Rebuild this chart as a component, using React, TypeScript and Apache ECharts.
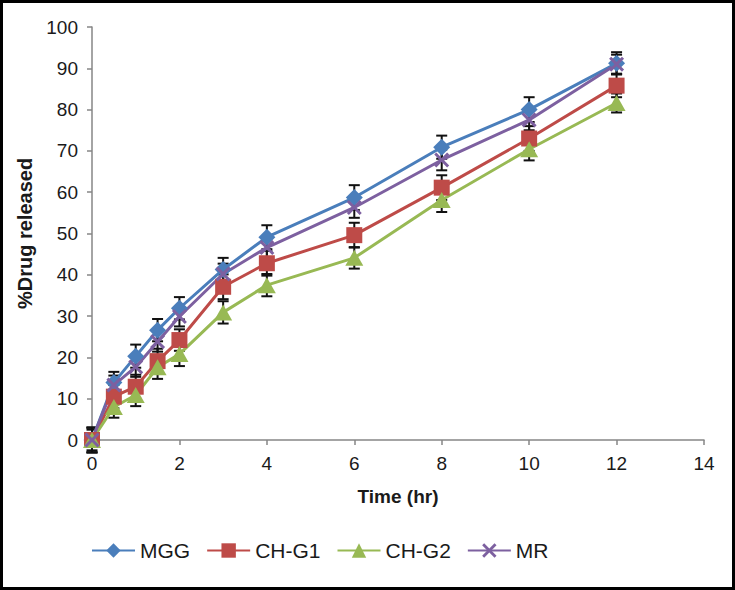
import React, { useEffect, useRef } from "react";
import * as echarts from "echarts";

const times = [0, 0.5, 1, 1.5, 2, 3, 4, 6, 8, 10, 12];
const seriesNames = ["MGG", "CH-G1", "CH-G2", "MR"];
const mgg = [0, 13.9, 20.3, 26.6, 31.9, 41.3, 49.1, 58.7, 70.9, 80, 91.2];
const chg1 = [0, 10.5, 12.9, 19.1, 24.2, 37.1, 42.8, 49.6, 61.1, 73, 85.8];
const chg2 = [0, 8, 10.9, 17.6, 20.8, 30.9, 37.5, 44.1, 58.1, 70.4, 81.6];
const mr = [0, 13.3, 17.7, 23.8, 29.9, 40.2, 46.6, 56.3, 67.8, 77.5, 91];
const mggErr = [3, 2.6, 2.8, 2.7, 2.7, 2.8, 2.9, 3, 2.8, 3, 2.7];
const chg1Err = [3, 2.8, 2.9, 3, 2.6, 3, 3, 3, 3, 3, 2.8];
const chg2Err = [3, 2.6, 2.7, 2.8, 2.9, 2.7, 2.7, 2.6, 2.9, 2.7, 2.3];
const mrErr = [2.5, 2.3, 2.4, 2.4, 2.4, 2.5, 2.5, 2.5, 2.5, 2.5, 2.3];
const xTicks = [0, 14, 2];
const yTicks = [0, 100, 10];

const colors = ["#4A7EBB", "#BE4B48", "#98B954", "#7D60A0"];
const symbols = [
  "diamond",
  "rect",
  "triangle",
  "path://M0,1.4L1.4,0L5,3.6L8.6,0L10,1.4L6.4,5L10,8.6L8.6,10L5,6.4L1.4,10L0,8.6L3.6,5Z",
];
const symbolSizes = [17, 16, [18, 16], 15];
const values = [mgg, chg1, chg2, mr];
const errors = [mggErr, chg1Err, chg2Err, mrErr];

const FONT = "Liberation Sans, Arial, sans-serif";

export default function App() {
  const ref = useRef<HTMLDivElement>(null);
  useEffect(() => {
    document.body.style.margin = "0";
    const chart = echarts.init(ref.current!, undefined, { renderer: "svg" });
    const lineSeries = values.map((vals, i) => ({
      name: seriesNames[i],
      type: "line",
      data: times.map((t, j) => [t, vals[j]]),
      symbol: symbols[i],
      symbolSize: symbolSizes[i],
      showAllSymbol: true,
      lineStyle: { color: colors[i], width: 3 },
      itemStyle: { color: colors[i] },
      z: 3,
    }));
    const errSeries = values.map((vals, i) => ({
      name: seriesNames[i] + "-err",
      type: "custom",
      clip: false,
      z: 2,
      silent: true,
      data: times.map((t, j) => [t, vals[j], errors[i][j]]),
      renderItem: (params: any, api: any) => {
        const x = api.value(0);
        const v = api.value(1);
        const e = api.value(2);
        const top = api.coord([x, v + e]);
        const bot = api.coord([x, v - e]);
        const hw = 5.5;
        const style = { stroke: "#111", lineWidth: 2 };
        return {
          type: "group",
          children: [
            { type: "line", shape: { x1: top[0], y1: top[1], x2: bot[0], y2: bot[1] }, style },
            { type: "line", shape: { x1: top[0] - hw, y1: top[1], x2: top[0] + hw, y2: top[1] }, style },
            { type: "line", shape: { x1: bot[0] - hw, y1: bot[1], x2: bot[0] + hw, y2: bot[1] }, style },
          ],
        };
      },
    }));
    chart.setOption({
      animation: false,
      backgroundColor: "#fff",
      textStyle: { fontFamily: FONT },
      grid: { left: 92, right: 31, top: 27, bottom: 150, containLabel: false },
      legend: {
        data: seriesNames,
        left: 86,
        top: 535,
        itemWidth: 43,
        itemHeight: 18,
        itemGap: 16,
        textStyle: { fontSize: 21, color: "#1a1a1a", fontFamily: FONT },
      },
      xAxis: {
        type: "value",
        min: xTicks[0],
        max: xTicks[1],
        interval: xTicks[2],
        name: "Time (hr)",
        nameLocation: "middle",
        nameGap: 47,
        nameTextStyle: { fontSize: 19, fontWeight: "bold", color: "#1a1a1a", fontFamily: FONT },
        axisLine: { lineStyle: { color: "#868686", width: 1.5 } },
        axisTick: { show: true, length: 5, lineStyle: { color: "#868686", width: 1.5 } },
        axisLabel: { fontSize: 19, color: "#1a1a1a", margin: 14, fontFamily: FONT },
        splitLine: { show: false },
      },
      yAxis: {
        type: "value",
        min: yTicks[0],
        max: yTicks[1],
        interval: yTicks[2],
        name: "%Drug released",
        nameLocation: "middle",
        nameGap: 50,
        nameTextStyle: { fontSize: 20, fontWeight: "bold", color: "#1a1a1a", fontFamily: FONT },
        axisLine: { show: true, lineStyle: { color: "#868686", width: 1.5 } },
        axisTick: { show: true, length: 5, lineStyle: { color: "#868686", width: 1.5 } },
        axisLabel: { fontSize: 19, color: "#1a1a1a", margin: 14, fontFamily: FONT },
        splitLine: { show: false },
      },
      graphic: [
        {
          type: "rect",
          shape: { x: 1.5, y: 1.5, width: 732, height: 587 },
          style: { fill: "none", stroke: "#000", lineWidth: 3 },
          silent: true,
          z: 100,
        },
      ],
      series: [...errSeries, ...lineSeries],
    });
    return () => chart.dispose();
  }, []);
  return <div ref={ref} style={{ width: 735, height: 590 }} />;
}
